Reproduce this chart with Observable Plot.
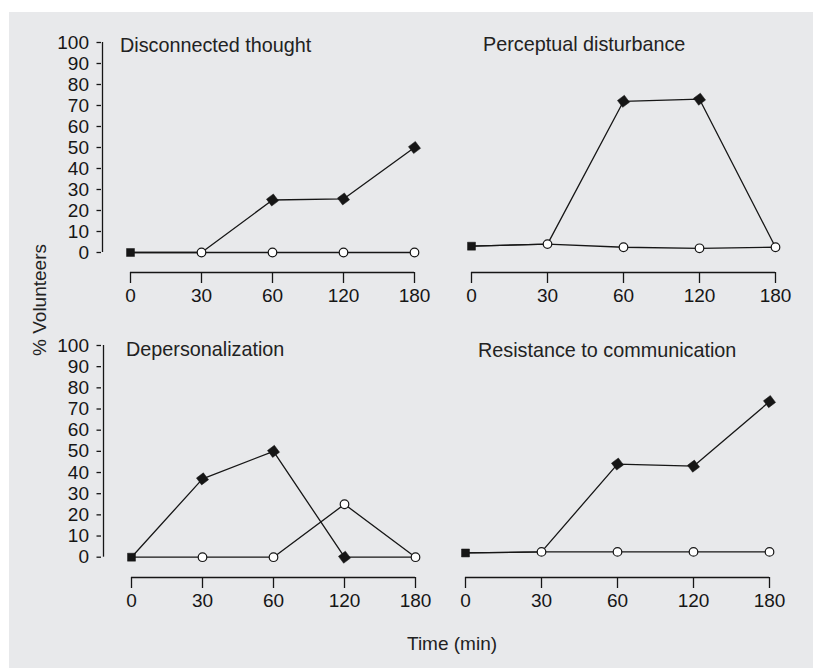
<!DOCTYPE html>
<html>
<head>
<meta charset="utf-8">
<script src="https://cdn.jsdelivr.net/npm/d3@7"></script>
<script src="https://cdn.jsdelivr.net/npm/@observablehq/plot@0.6"></script>
<style>
  body { margin: 0; background: #fff; }
  #fig { position: relative; width: 813px; height: 668px; background: #fff; overflow: hidden;
         font-family: "Liberation Sans", Arial, Helvetica, sans-serif; color: #222; }
  #bg { position: absolute; left: 9px; top: 12px; width: 804px; height: 656px; background: #e8e9eb; }
  .panel { position: absolute; }
  .lbl { position: absolute; font-size: 19px; line-height: 19px; white-space: nowrap; color: #222; }
  .ttl { font-size: 19.8px; line-height: 20px; }
</style>
</head>
<body>
<div id="fig"><div id="bg"></div></div>
<script>
// ---- data ----
const times = ["0", "30", "60", "120", "180"];
const yTicks = [0, 10, 20, 30, 40, 50, 60, 70, 80, 90, 100];
const titles = ["Disconnected thought", "Perceptual disturbance", "Depersonalization", "Resistance to communication"];
const yLabel = "% Volunteers";
const xLabel = "Time (min)";

const drugDisconnected    = [0, 0, 25, 25.5, 50];
const placeboDisconnected = [0, 0, 0, 0, 0];
const drugPerceptual      = [3, 4, 72, 73, 2.5];
const placeboPerceptual   = [3, 4, 2.5, 2, 2.5];
const drugDepersonal      = [0, 37, 50, 0, 0];
const placeboDepersonal   = [0, 0, 0, 25, 0];
const drugResistance      = [2, 2.5, 44, 43, 73.5];
const placeboResistance   = [2, 2.5, 2.5, 2.5, 2.5];

// ---- layout ----
const ink = "#161616";
const panels = [
  {title: titles[0], drug: drugDisconnected, placebo: placeboDisconnected, left: 0,   top: 0,   width: 430, xRange: [129, 414], yRange: [252, 42],   frameBottom: 272, yAxis: true,  tx: 120, ty: 35},
  {title: titles[1], drug: drugPerceptual,   placebo: placeboPerceptual,   left: 400, top: 0,   width: 413, xRange: [70, 375],  yRange: [252, 42],   frameBottom: 272, yAxis: false, tx: 483, ty: 34},
  {title: titles[2], drug: drugDepersonal,   placebo: placeboDepersonal,   left: 0,   top: 300, width: 430, xRange: [129, 416], yRange: [256.7, 45], frameBottom: 277, yAxis: true,  tx: 126, ty: 339},
  {title: titles[3], drug: drugResistance,   placebo: placeboResistance,   left: 400, top: 300, width: 413, xRange: [65, 369],  yRange: [256.7, 45], frameBottom: 277, yAxis: false, tx: 478, ty: 340}
];

const fig = document.getElementById("fig");
const H = 320;

for (const p of panels) {
  const rows = times.map((t, i) => ({t, drug: p.drug[i], placebo: p.placebo[i]}));
  const marks = [
    Plot.axisX({anchor: "bottom", tickSize: 11, tickPadding: 5, label: null, strokeWidth: 1.3}),
    Plot.ruleY([0], {x1: () => times[0], x2: () => times[times.length - 1], dy: p.frameBottom - p.yRange[0], stroke: ink, strokeWidth: 1.3}),
    Plot.lineY(rows, {x: "t", y: "placebo", stroke: ink, strokeWidth: 1.3}),
    Plot.lineY(rows, {x: "t", y: "drug", stroke: ink, strokeWidth: 1.3}),
    Plot.dot(rows.filter((d, i) => i > 0 && d.drug !== d.placebo), {x: "t", y: "drug", symbol: "diamond2", r: 5.5, fill: ink, stroke: ink, strokeWidth: 0.5, rotate: 8}),
    Plot.dot(rows.slice(1), {x: "t", y: "placebo", r: 4.3, fill: "white", stroke: ink, strokeWidth: 1.2}),
    Plot.dot(rows.slice(0, 1), {x: "t", y: "placebo", symbol: "square", r: 4.5, fill: ink, stroke: ink, strokeWidth: 0.5})
  ];
  if (p.yAxis) {
    marks.unshift(
      Plot.axisY({anchor: "left", ticks: yTicks, tickSize: 4.5, tickPadding: 8, label: null, strokeWidth: 1.3}),
      Plot.ruleX([0], {x: () => times[0], y1: () => 0, y2: () => 100, dx: 101 - p.xRange[0], stroke: ink, strokeWidth: 1.3})
    );
  }
  const chart = Plot.plot({
    width: p.width,
    height: H,
    marginLeft: p.yAxis ? 101 : 40,
    marginRight: 10,
    marginTop: p.yRange[1],
    marginBottom: H - p.frameBottom,
    x: {type: "point", domain: times, range: p.xRange, padding: 0},
    y: {domain: [0, 100], range: p.yRange, axis: p.yAxis ? undefined : null},
    style: {background: "transparent", color: ink, fontFamily: '"Liberation Sans", Arial, Helvetica, sans-serif', fontSize: "19px", overflow: "visible"},
    marks
  });
  chart.classList.add("panel");
  chart.style.left = p.left + "px";
  chart.style.top = p.top + "px";
  fig.appendChild(chart);

  const t = document.createElement("div");
  t.className = "lbl ttl";
  t.textContent = p.title;
  t.style.left = p.tx + "px";
  t.style.top = p.ty + "px";
  fig.appendChild(t);
}

const yl = document.createElement("div");
yl.className = "lbl";
yl.textContent = yLabel;
yl.style.left = "39px";
yl.style.top = "300px";
yl.style.transform = "translate(-50%, -50%) rotate(-90deg)";
fig.appendChild(yl);

const xl = document.createElement("div");
xl.className = "lbl";
xl.textContent = xLabel;
xl.style.left = "407px";
xl.style.top = "634px";
fig.appendChild(xl);
</script>
</body>
</html>
